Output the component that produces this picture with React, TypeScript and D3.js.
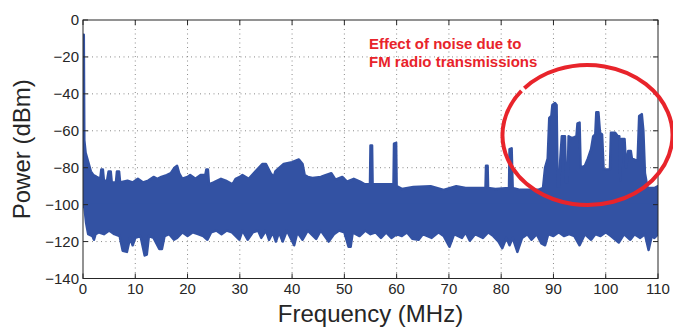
import React from "react";
import * as d3 from "d3";

// ---- data ----
const xTicks = [0, 10, 20, 30, 40, 50, 60, 70, 80, 90, 100, 110];
const yTicks = [0, -20, -40, -60, -80, -100, -120, -140];

// upper envelope of the spectrum (MHz, dBm)
const upperFreq = [
  0, 0.15, 0.25, 0.5, 1, 1.5, 2, 2.6, 3.3, 3.5, 3.8, 4.0, 4.6, 4.9, 5.3, 5.5, 6.3, 6.5, 6.9, 7.1,
  8.5, 9.5, 10.5, 11.5, 12.5, 13.5, 14.2, 15, 16, 16.8, 17.5, 18, 18.4, 19, 20, 20.5, 21.5, 22.5,
  23.4, 23.6, 23.9, 24.1, 25, 26.4, 27.3, 28.6, 29.2, 30, 30.5, 31.7, 33, 34.3, 35, 35.9, 36.5,
  36.8, 37.2, 38.4, 40, 41.3, 42.0, 42.4, 43, 43.9, 45.5, 46.4, 47.5, 48.3, 49.6, 50.5, 51.8, 53,
  53.9, 54.9, 55.0, 55.3, 55.4, 56.3, 58.2, 59.4, 59.5, 59.9, 60.0, 61, 63.2, 66.5, 69, 71.4, 73.2,
  75, 77.0, 77.1, 77.4, 77.5, 78.9, 81.5, 81.6, 82.0, 82.2, 83.6, 87.1, 88.0, 88.4, 88.9, 89.2,
  89.6, 89.8, 90.3, 90.6, 90.8, 91.1, 91.3, 91.6, 92.2, 92.4, 92.7, 92.9, 93.5, 94.0, 94.4, 94.6,
  95.0, 95.2, 96, 96.6, 97.2, 97.6, 98.0, 98.2, 98.6, 98.9, 99.3, 99.6, 100.8, 101.0, 101.8, 102.3,
  102.6, 102.8, 103.0, 103.6, 103.9, 104.3, 104.8, 105.0, 105.8, 106.1, 106.4, 106.9, 107.2, 107.5,
  108, 109.3, 110,
];
const upperDb = [
  -8, -8, -65, -72, -77, -82, -84, -85, -86, -81, -81, -87, -87, -82, -82, -88, -88, -82, -82, -88,
  -87, -88, -86, -88, -87, -85, -86, -85, -84, -83, -80, -79, -83, -86, -85, -84, -86, -84,
  -84, -81, -81, -89, -88, -86, -87, -89, -86, -85, -84, -86, -82, -78, -78, -83, -85,
  -82, -81, -78, -77, -75.5, -78, -84, -85, -85.5, -85, -84, -83, -86.5, -85, -87.5, -86, -87.5,
  -89, -89, -68, -68, -89, -89, -89, -89, -67, -66.5, -90, -91.5, -90.5, -90, -92, -90, -91,
  -91, -91, -79, -79, -91, -91.5, -91, -70, -69.5, -91, -92, -92, -91, -80, -75, -53,
  -52, -46, -45, -46, -90, -90, -76, -63, -63, -88, -88, -63, -64, -63.5, -63, -56,
  -55.6, -80, -79, -75, -70, -63, -62, -50, -50, -61, -62, -81, -81, -61, -61, -63,
  -63, -87, -64.5, -64.5, -80, -71, -71, -75, -76, -76, -52, -51, -60, -83,
  -91, -91, -90,
];

// lower envelope of the spectrum (MHz, dBm)
const lowerFreq = [
  0, 0.3, 0.6, 1, 1.8, 2.1, 2.4, 3, 4, 5, 6, 7, 7.6, 8.4, 9, 9.5, 10, 11, 11.8, 12.2, 12.6, 13.5,
  14.6, 15.1, 15.6, 16.5, 17.4, 18, 19, 20, 21, 22, 23, 23.8, 24.5, 25.5, 26.5, 27.5, 28.5, 29.9,
  30.5, 31.5, 32.5, 33.5, 34.1, 35, 35.6, 36.3, 36.9, 37.5, 38.2, 39, 40.4, 41, 42, 43, 44.6, 45.5,
  47, 48, 49, 50, 50.8, 51.2, 51.6, 52.9, 54, 55, 56, 57, 58, 59, 60, 61, 62, 63, 64.2, 65, 66.7,
  68, 69, 70.1, 71, 72.5, 73.2, 74, 75, 76.5, 77.5, 78.5, 79.5, 80.2, 81, 81.6, 82.2, 83.1, 84,
  85, 85.8, 86.8, 87.7, 88.4, 89, 90, 91, 92, 93, 94, 95, 96, 97.2, 98, 99, 100, 101, 102.5,
  103.5, 104.7, 105.5, 106.6, 107.5, 108.2, 108.8, 109.3, 110,
];
const lowerDb = [
  -100, -102, -110, -116, -117, -119, -116, -115, -116, -114, -116, -117, -125, -125.6, -118, -122,
  -118, -117, -127.5, -127, -117, -118, -124, -124, -117, -116, -119, -118, -115, -117, -115, -116,
  -117, -119, -115, -114, -116, -114, -115, -119, -114, -119, -115, -114, -118, -114, -119, -115,
  -120, -115, -120, -114, -122, -115, -119, -114, -118.5, -114, -120, -116, -114, -115, -122.8,
  -122.8, -115, -117, -114, -116, -115, -118, -115, -118, -116, -117, -115, -118.5, -119, -116,
  -118, -115, -117, -122.8, -116, -118, -115, -119.5, -116, -118, -115, -117, -120, -123.6, -118,
  -122, -118, -125.6, -118, -116, -119, -116, -121, -122, -116, -117, -115, -117, -116, -117,
  -122, -116, -119, -116, -117, -115, -117, -120.5, -116, -119, -116, -118, -116, -124.6, -117,
  -118, -116,
];

const annotationLines = ["Effect of noise due to", "FM radio transmissions"];
const xLabel = "Frequency (MHz)";
const yLabel = "Power (dBm)";

// ---- layout ----
const W = 673;
const H = 327;
const left = 83;
const right = 658;
const top = 20;
const bottom = 278.5;
const BLUE = "#3352a3";
const RED = "#e8242b";
const AX = "#262626";
const FONT = "'Liberation Sans', Arial, Helvetica, sans-serif";

export default function App() {
  const x = d3.scaleLinear().domain([0, 110]).range([left, right]);
  const y = d3.scaleLinear().domain([-140, 0]).range([bottom, top]);

  const upper: [number, number][] = upperFreq.map((f, i) => [f, upperDb[i]]);
  const lower: [number, number][] = lowerFreq.map((f, i) => [f, lowerDb[i]]);

  const area = d3
    .area<[number, number]>()
    .x((d) => x(d[0]))
    .y0(y(-100))
    .y1((d) => y(d[1]));

  const fmt = (v: number) => d3.format("d")(v);

  // ellipse annotation with a tiny gap at upper-left
  const cx = 587.5, cy = 135, rx = 85, ry = 70;
  const pt = (deg: number) => {
    const a = (deg * Math.PI) / 180;
    return [cx + rx * Math.cos(a), cy + ry * Math.sin(a)];
  };
  const [sx, sy] = pt(-138);
  const [ex, ey] = pt(-141);
  const ellipsePath = `M${sx},${sy} A${rx},${ry} 0 1 1 ${ex},${ey}`;

  const tickLen = 5;

  return (
    <svg
      width={W}
      height={H}
      style={{ position: "absolute", left: 0, top: 0, display: "block", background: "#fff" }}
      fontFamily={FONT}
    >
      <defs>
        <clipPath id="plotClip">
          <rect x={left} y={top} width={right - left} height={bottom - top} />
        </clipPath>
      </defs>
      <rect x={0} y={0} width={W} height={H} fill="#fff" />

      {/* grid */}
      <g stroke="#8a8a8a" strokeWidth={1} strokeDasharray="1,3.5">
        {xTicks.slice(1, -1).map((t) => (
          <line key={"gx" + t} x1={x(t)} x2={x(t)} y1={top} y2={bottom} />
        ))}
        {yTicks.slice(1, -1).map((t) => (
          <line key={"gy" + t} x1={left} x2={right} y1={y(t)} y2={y(t)} />
        ))}
      </g>

      {/* spectrum */}
      <g clipPath="url(#plotClip)">
        <path d={area(upper) || ""} fill={BLUE} stroke={BLUE} strokeWidth={2.5} strokeLinejoin="round" />
        <path d={area(lower) || ""} fill={BLUE} stroke={BLUE} strokeWidth={2.5} strokeLinejoin="round" />
      </g>

      {/* axes box */}
      <rect x={left} y={top} width={right - left} height={bottom - top} fill="none" stroke={AX} strokeWidth={1} />
      <g stroke={AX} strokeWidth={1}>
        {xTicks.map((t) => (
          <g key={"tx" + t}>
            <line x1={x(t)} x2={x(t)} y1={bottom} y2={bottom - tickLen} />
            <line x1={x(t)} x2={x(t)} y1={top} y2={top + tickLen} />
          </g>
        ))}
        {yTicks.map((t) => (
          <g key={"ty" + t}>
            <line x1={left} x2={left + tickLen} y1={y(t)} y2={y(t)} />
            <line x1={right} x2={right - tickLen} y1={y(t)} y2={y(t)} />
          </g>
        ))}
      </g>

      {/* tick labels */}
      <g fill={AX} fontSize={15}>
        {xTicks.map((t) => (
          <text key={"lx" + t} x={x(t)} y={bottom + 15.5} textAnchor="middle">
            {fmt(t)}
          </text>
        ))}
        {yTicks.map((t) => (
          <text key={"ly" + t} x={left - 4} y={y(t) + 5.3} textAnchor="end">
            {fmt(t)}
          </text>
        ))}
      </g>

      {/* axis labels */}
      <text x={(left + right) / 2} y={322} textAnchor="middle" fontSize={24} fill={AX}>
        {xLabel}
      </text>
      <text
        transform={`translate(29.5,${(top + bottom) / 2}) rotate(-90)`}
        textAnchor="middle"
        fontSize={24}
        fill={AX}
      >
        {yLabel}
      </text>

      {/* annotation */}
      <path d={ellipsePath} fill="none" stroke={RED} strokeWidth={4} />
      <g fill={RED} fontSize={15} fontWeight="bold">
        {annotationLines.map((s, i) => (
          <text key={s} x={369} y={49.3 + i * 17.4}>
            {s}
          </text>
        ))}
      </g>
    </svg>
  );
}
